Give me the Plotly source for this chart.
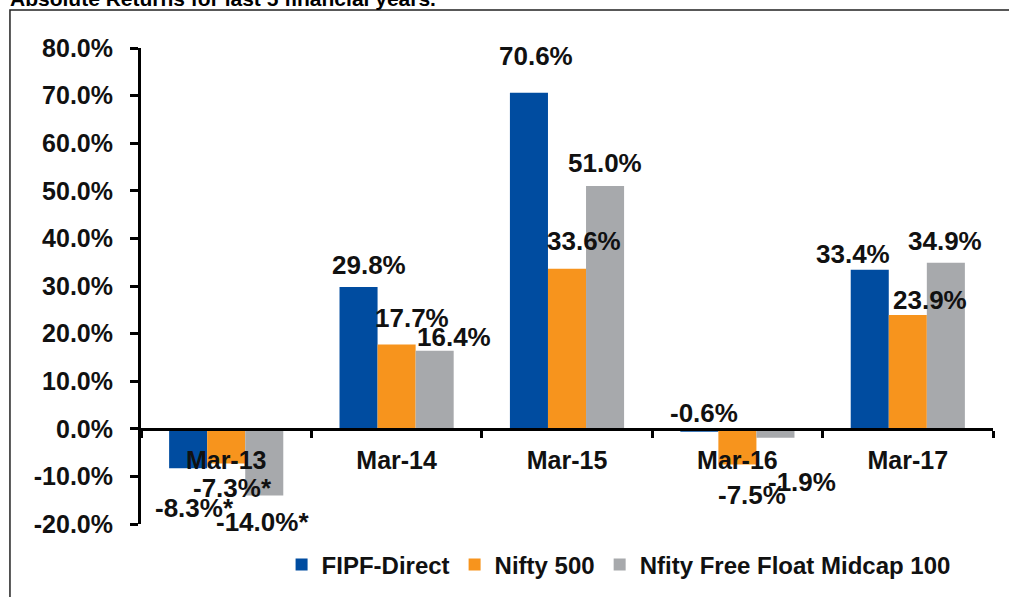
import plotly.graph_objects as go

categories = ["Mar-13", "Mar-14", "Mar-15", "Mar-16", "Mar-17"]
fipf_direct = [-8.3, 29.8, 70.6, -0.6, 33.4]
nifty_500 = [-7.3, 17.7, 33.6, -7.5, 23.9]
midcap_100 = [-14.0, 16.4, 51.0, -1.9, 34.9]
series_names = ["FIPF-Direct", "Nifty 500", "Nfity Free Float Midcap 100"]
label_suffix = [["*", "", "", "", ""], ["*", "", "", "", ""], ["*", "", "", "", ""]]
y_tick_vals = [80, 70, 60, 50, 40, 30, 20, 10, 0, -10, -20]
y_tick_text = ["80.0%", "70.0%", "60.0%", "50.0%", "40.0%", "30.0%", "20.0%", "10.0%", "0.0%", "-10.0%", "-20.0%"]
title_text = "Absolute Returns for last 5 financial years."

colors = ["#004CA0", "#F7941D", "#A7A9AC"]
FONT = "Liberation Sans, Arial, sans-serif"

# pixel offsets for the data labels (layout only), per series per category
label_offsets = [
    [(-32, -40), (-28, 22), (-31, 37), (-33, 19), (-55, 16)],
    [(6, -24), (15, 27), (17, 28), (15, -30), (22, 15)],
    [(36, -27), (57, 14), (38, 23), (65, -44), (37, 22)],
]

all_series = [fipf_direct, nifty_500, midcap_100]

fig = go.Figure()
for name, vals, col in zip(series_names, all_series, colors):
    fig.add_trace(go.Bar(x=categories, y=vals, name=name, marker=dict(color=col, line=dict(width=0))))

annotations = []
for s, vals in enumerate(all_series):
    for i, v in enumerate(vals):
        dx, dy = label_offsets[s][i]
        annotations.append(dict(
            x=categories[i], y=v, xref="x", yref="y",
            text=f"{v:.1f}%{label_suffix[s][i]}", showarrow=False,
            xshift=dx, yshift=dy, xanchor="center", yanchor="middle",
            font=dict(family=FONT, size=26, color="#111111", weight="bold"),
        ))

annotations.append(dict(
    x=-0.156, y=1.105, xref="paper", yref="paper", xanchor="left", yanchor="middle",
    text=title_text, showarrow=False,
    font=dict(family=FONT, size=21, color="#000000", weight="bold"),
))

fig.update_layout(
    width=1009, height=597,
    margin=dict(l=141, r=16, t=48, b=73, autoexpand=False),
    paper_bgcolor="white", plot_bgcolor="white",
    barmode="group", bargap=0.33, bargroupgap=0,
    showlegend=True,
    legend=dict(
        orientation="h", x=0.165, xanchor="left", y=-0.086, yanchor="middle",
        font=dict(family=FONT, size=24, color="#111111", weight="bold"),
        bgcolor="rgba(0,0,0,0)", itemclick=False,
    ),
    annotations=annotations,
    shapes=[dict(
        type="rect", xref="paper", yref="paper",
        x0=-0.1538, x1=1.1, y0=-0.3, y1=1.0798,
        line=dict(color="#222222", width=1.5), fillcolor="rgba(0,0,0,0)", layer="below",
    )],
    xaxis=dict(
        type="category", anchor="free", position=0.2,
        showline=True, linecolor="black", linewidth=3,
        ticks="outside", tickson="boundaries", ticklen=7, tickwidth=3, tickcolor="black",
        showgrid=False, zeroline=False, automargin=False,
        tickfont=dict(family=FONT, size=25, color="#111111", weight="bold"),
        ticklabelstandoff=8,
    ),
    yaxis=dict(
        range=[-20, 80], tickvals=y_tick_vals, ticktext=y_tick_text,
        showline=True, linecolor="black", linewidth=3,
        ticks="outside", ticklen=8, tickwidth=3, tickcolor="black",
        showgrid=False, zeroline=False, automargin=False,
        tickfont=dict(family=FONT, size=25, color="#111111", weight="bold"),
        ticklabelstandoff=12,
    ),
)

fig.write_html(
    "out.html",
    config={"displayModeBar": False},
    post_script="document.body.style.margin='0';document.body.style.overflow='hidden';",
)
